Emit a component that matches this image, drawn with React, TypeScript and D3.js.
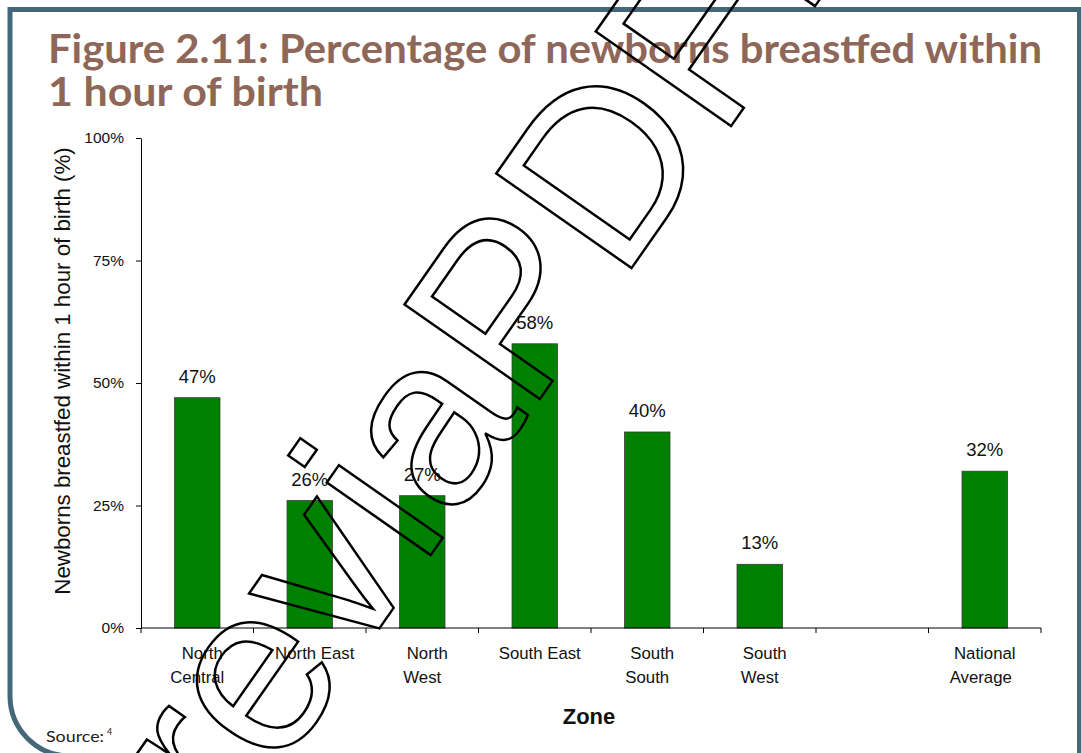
import React, { useEffect, useRef } from "react";
import * as d3 from "d3";

// ---------- data ----------
const categories: string[] = [
  "North Central",
  "North East",
  "North West",
  "South East",
  "South South",
  "South West",
  "",
  "National Average",
];
const categoryLines: string[][] = [
  ["North", "Central"],
  ["North East"],
  ["North", "West"],
  ["South East"],
  ["South", "South"],
  ["South", "West"],
  [],
  ["National", "Average"],
];
const values: (number | null)[] = [0.47, 0.26, 0.27, 0.58, 0.4, 0.13, null, 0.32];
const yTicks: number[] = [0, 0.25, 0.5, 0.75, 1];
const titleLines: string[] = [
  "Figure 2.11: Percentage of newborns breastfed within",
  "1 hour of birth",
];
const yAxisTitle = "Newborns breastfed within 1 hour of birth (%)";
const xAxisTitle = "Zone";
const sourceText = "Source:";
const sourceNote = "4";
const watermarkBefore = "Pr";
const watermarkAfter = "eviaPDFE";

export default function App() {
  const ref = useRef<SVGSVGElement | null>(null);

  useEffect(() => {
    document.body.style.margin = "0";
    const svg = d3.select(ref.current);
    svg.selectAll("*").remove();

    const W = 1081;
    const H = 753;
    const plot = { left: 141, right: 1041, top: 138, bottom: 628 };
    const sans = "'Liberation Sans', Arial, sans-serif";
    const titleFont = "Lato, 'Open Sans', sans-serif";

    svg.append("rect").attr("width", W).attr("height", H).attr("fill", "#ffffff");

    // frame
    const fx0 = 10, fy0 = 9.5, fx1 = 1079.5, fy1 = 756, r = 60;
    const fp = d3.path();
    fp.moveTo(fx1, fy1);
    fp.lineTo(fx0 + r, fy1);
    fp.arcTo(fx0, fy1, fx0, fy1 - r, r);
    fp.lineTo(fx0, fy0);
    fp.lineTo(fx1, fy0);
    fp.closePath();
    svg
      .append("path")
      .attr("d", fp.toString())
      .attr("fill", "none")
      .attr("stroke", "#45677A")
      .attr("stroke-width", 5);

    // title
    const titleBaselines = [63, 106];
    const titleLengths = [994, 275];
    titleLines.forEach((t, i) => {
      svg
        .append("text")
        .attr("x", 48)
        .attr("y", titleBaselines[i])
        .attr("font-family", titleFont)
        .attr("font-weight", 700)
        .attr("font-size", 41)
        .attr("fill", "#8E6758")
        .attr("textLength", titleLengths[i])
        .attr("lengthAdjust", "spacingAndGlyphs")
        .text(t);
    });

    // scales
    const x = d3
      .scaleBand<string>()
      .domain(categories.map((_, i) => String(i)))
      .range([plot.left, plot.right])
      .paddingInner(0.596)
      .paddingOuter(0.298);
    const y = d3.scaleLinear().domain([0, 1]).range([plot.bottom, plot.top]);

    // y axis
    const yAxis = d3
      .axisLeft(y)
      .tickValues(yTicks)
      .tickFormat(d3.format(".0%") as any)
      .tickSize(5)
      .tickSizeOuter(0)
      .tickPadding(12);
    const gy = svg
      .append("g")
      .attr("transform", `translate(${plot.left},0)`)
      .call(yAxis as any);
    gy.selectAll("text")
      .attr("font-family", sans)
      .attr("font-size", 15.5)
      .attr("fill", "#111");
    gy.selectAll("line").attr("stroke", "#000");
    gy.select(".domain").attr("stroke", "#000");

    // bars
    const idx = categories.map((_, i) => i).filter((i) => values[i] !== null);
    svg
      .append("g")
      .selectAll("rect")
      .data(idx)
      .join("rect")
      .attr("x", (i) => x(String(i))!)
      .attr("y", (i) => y(values[i] as number))
      .attr("width", x.bandwidth())
      .attr("height", (i) => y(0) - y(values[i] as number))
      .attr("fill", "#008000")
      .attr("stroke", "#3a3a3a")
      .attr("stroke-width", 0.8);

    // data labels
    svg
      .append("g")
      .selectAll("text")
      .data(idx)
      .join("text")
      .attr("x", (i) => x(String(i))! + x.bandwidth() / 2)
      .attr("y", (i) => y(values[i] as number) - 15)
      .attr("text-anchor", "middle")
      .attr("font-family", sans)
      .attr("font-size", 18.5)
      .attr("fill", "#111")
      .text((i) => d3.format(".0%")(values[i] as number));

    // x axis
    const gx = svg.append("g");
    gx.append("line")
      .attr("x1", plot.left)
      .attr("x2", plot.right)
      .attr("y1", y(0))
      .attr("y2", y(0))
      .attr("stroke", "#000");
    const boundaries = d3.range(categories.length + 1).map((k) => plot.left + k * x.step());
    gx.selectAll("line.tick")
      .data(boundaries)
      .join("line")
      .attr("class", "tick")
      .attr("x1", (d) => d)
      .attr("x2", (d) => d)
      .attr("y1", y(0))
      .attr("y2", y(0) + 5)
      .attr("stroke", "#000");
    categories.forEach((_, i) => {
      const cx = x(String(i))! + x.bandwidth() / 2;
      const last = i === categories.length - 1;
      const t = gx
        .append("text")
        .attr("text-anchor", "middle")
        .attr("font-family", sans)
        .attr("font-size", 16.8)
        .attr("fill", "#111");
      categoryLines[i].forEach((ln, j) => {
        const shift = last ? (j === 0 ? 0 : -4) : j === 0 ? 5 : 0;
        t.append("tspan").attr("x", cx + shift).attr("y", 659 + j * 24).text(ln);
      });
    });

    // axis titles
    svg
      .append("text")
      .attr("transform", `translate(70,${(plot.top + plot.bottom) / 2 - 12}) rotate(-90)`)
      .attr("text-anchor", "middle")
      .attr("font-family", sans)
      .attr("font-size", 22.3)
      .attr("fill", "#111")
      .text(yAxisTitle);
    svg
      .append("text")
      .attr("x", 589)
      .attr("y", 724)
      .attr("text-anchor", "middle")
      .attr("font-family", sans)
      .attr("font-weight", 700)
      .attr("font-size", 22)
      .attr("fill", "#111")
      .text(xAxisTitle);

    // source
    svg
      .append("text")
      .attr("x", 46)
      .attr("y", 742)
      .attr("font-family", titleFont)
      .attr("font-size", 15)
      .attr("fill", "#222")
      .attr("textLength", 58)
      .attr("lengthAdjust", "spacingAndGlyphs")
      .text(sourceText);
    svg
      .append("text")
      .attr("x", 107)
      .attr("y", 735)
      .attr("font-family", titleFont)
      .attr("font-size", 9)
      .attr("fill", "#222")
      .text(sourceNote);

    // watermark outline
    const wm = svg.append("g").attr("transform", "translate(276,776) rotate(-55)");
    const wmStyle = (s: any) =>
      s
        .attr("font-family", sans)
        .attr("font-size", 240)
        .attr("fill", "none")
        .attr("stroke", "#000")
        .attr("stroke-width", 2.5)
        .attr("stroke-linejoin", "miter");
    wmStyle(wm.append("text").attr("x", 0).attr("y", 0).attr("text-anchor", "end").text(watermarkBefore));
    wmStyle(wm.append("text").attr("x", 0).attr("y", 0).attr("text-anchor", "start").text(watermarkAfter));
  }, []);

  return (
    <svg
      ref={ref}
      width={1081}
      height={753}
      style={{ position: "fixed", left: 0, top: 0, display: "block" }}
    />
  );
}
